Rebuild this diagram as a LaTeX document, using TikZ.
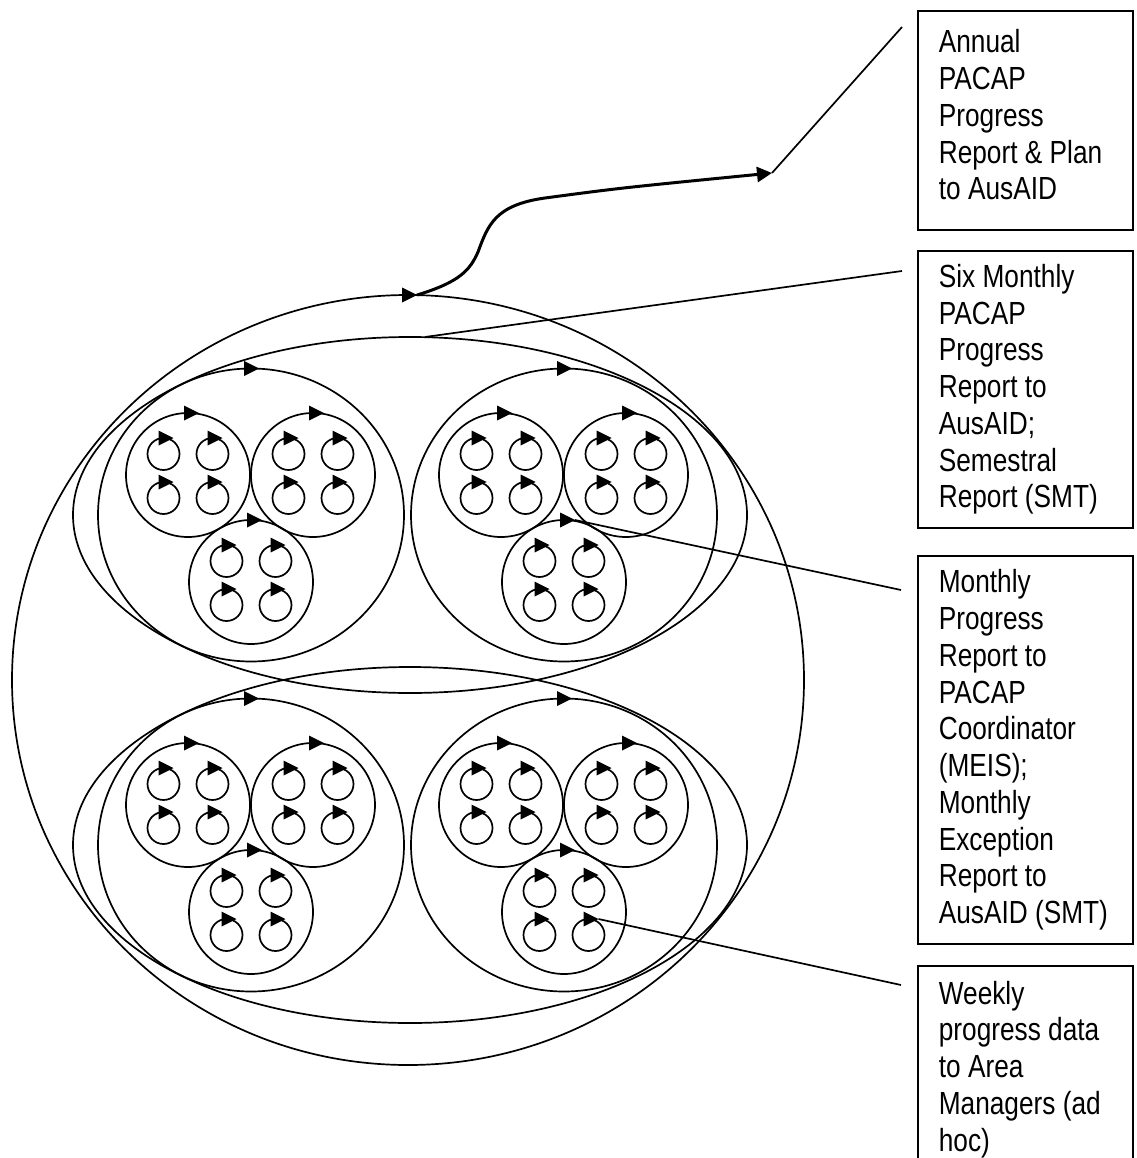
\documentclass[tikz,border=0pt]{standalone}
\usepackage{fontspec}
\setmainfont{Liberation Sans}[FakeStretch=0.82]
\usetikzlibrary{shapes.geometric,arrows.meta}

\begin{document}
\begin{tikzpicture}[x=1pt,y=-1pt,
  stroke/.style={line width=1.7pt},
  outline/.style={stroke, draw, ellipse, inner sep=0pt, outer sep=0pt},
  ring/.style={stroke, draw, circle, inner sep=0pt, outer sep=0pt},
  cluster/.style={outline, minimum width=306pt, minimum height=293pt},
  medium/.style={ring, minimum size=124pt},
  tiny/.style={ring, minimum size=32pt},
  textbox/.style={stroke, draw, anchor=north west, text width=173pt,
    inner xsep=21pt, inner ysep=0pt, align=left,
    font=\fontsize{32pt}{36.75pt}\selectfont,
    execute at begin node={\spaceskip=7.3pt\relax}},
  callout/.style={stroke},
  tipmark/.pic={\fill (-15pt,-7.5pt) -- (0pt,0pt) -- (-15pt,7.5pt) -- cycle;}
]
\useasboundingbox (0,0) rectangle (1136,1158);
\clip (0,0) rectangle (1136,1158);

% outermost cycle and the two half-year cycles
\node[outline, minimum width=792pt, minimum height=770pt] (outer) at (408,680) {};
\pic at ([xshift=9pt]outer.north) {tipmark};
\node[outline, minimum width=674pt, minimum height=356pt] (wideT) at (410,515) {};
\node[outline, minimum width=674pt, minimum height=356pt] (wideB) at (410,845) {};

% four area clusters, each with three teams of four weekly loops
\foreach \cx/\cy/\cn in {251/515/TL, 564/515/TR, 251/845/BL, 564/845/BR} {
  \node[cluster] (c\cn) at (\cx,\cy) {};
  \pic at ([xshift=8pt]c\cn.north) {tipmark};
  \foreach \mx/\my/\mn in {-63/-40/a, 62/-40/b, 0/67/c} {
    \node[medium] (m\cn\mn) at (\cx+\mx,\cy+\my) {};
    \pic at ([xshift=11pt]m\cn\mn.north) {tipmark};
    \foreach \tx/\ty/\tn in {-24.5/-21/1, 24.5/-21/2, -24.5/23/3, 24.5/23/4} {
      \node[tiny] (t\cn\mn\tn) at (\cx+\mx+\tx,\cy+\my+\ty) {};
      \pic at ([xshift=10pt]t\cn\mn\tn.north) {tipmark};
    }
  }
}

% report boxes
\node[textbox, minimum height=219pt] (b1) at (917,10)
  {Annual\\PACAP\\Progress\\Report \& Plan\\to AusAID\strut};
\node[textbox, minimum height=277pt] (b2) at (917,250)
  {Six Monthly\\PACAP\\Progress\\Report to\\AusAID;\\Semestral\\Report (SMT)};
\node[textbox, minimum height=388pt] (b3) at (917,555)
  {Monthly\\Progress\\Report to\\PACAP\\Coordinator\\(MEIS);\\Monthly\\Exception\\Report to\\AusAID (SMT)};
\node[textbox, minimum height=207pt] (b4) at (917,965)
  {Weekly\\progress data\\to Area\\Managers (ad\\hoc)};

% free ends of the callout lines, just left of each box
\coordinate (e1) at ([xshift=-15pt,yshift=-17pt]b1.north west);
\coordinate (e2) at ([xshift=-15pt,yshift=-21pt]b2.north west);
\coordinate (e3) at ([xshift=-16pt,yshift=-35pt]b3.north west);
\coordinate (e4) at ([xshift=-16pt,yshift=-20pt]b4.north west);
\coordinate (annualTip) at (772,173);

% annual report flow out of the outer cycle
\draw[line width=3pt, -{Triangle[length=15pt,width=15pt]}]
  ([xshift=9pt]outer.north) .. controls (460,282) and (470,270) .. (478,252)
  .. controls (488,225) and (495,205) .. (545,198)
  .. controls (620,188) .. (annualTip);

% callout lines
\draw[callout] (annualTip) -- (e1);
\draw[callout] ([xshift=15pt]wideT.north) -- (e2);
\draw[callout] ([xshift=11pt]mTRc.north) -- (e3);
\draw[callout] ([xshift=10pt]tBRc4.north) -- (e4);
\end{tikzpicture}
\end{document}
